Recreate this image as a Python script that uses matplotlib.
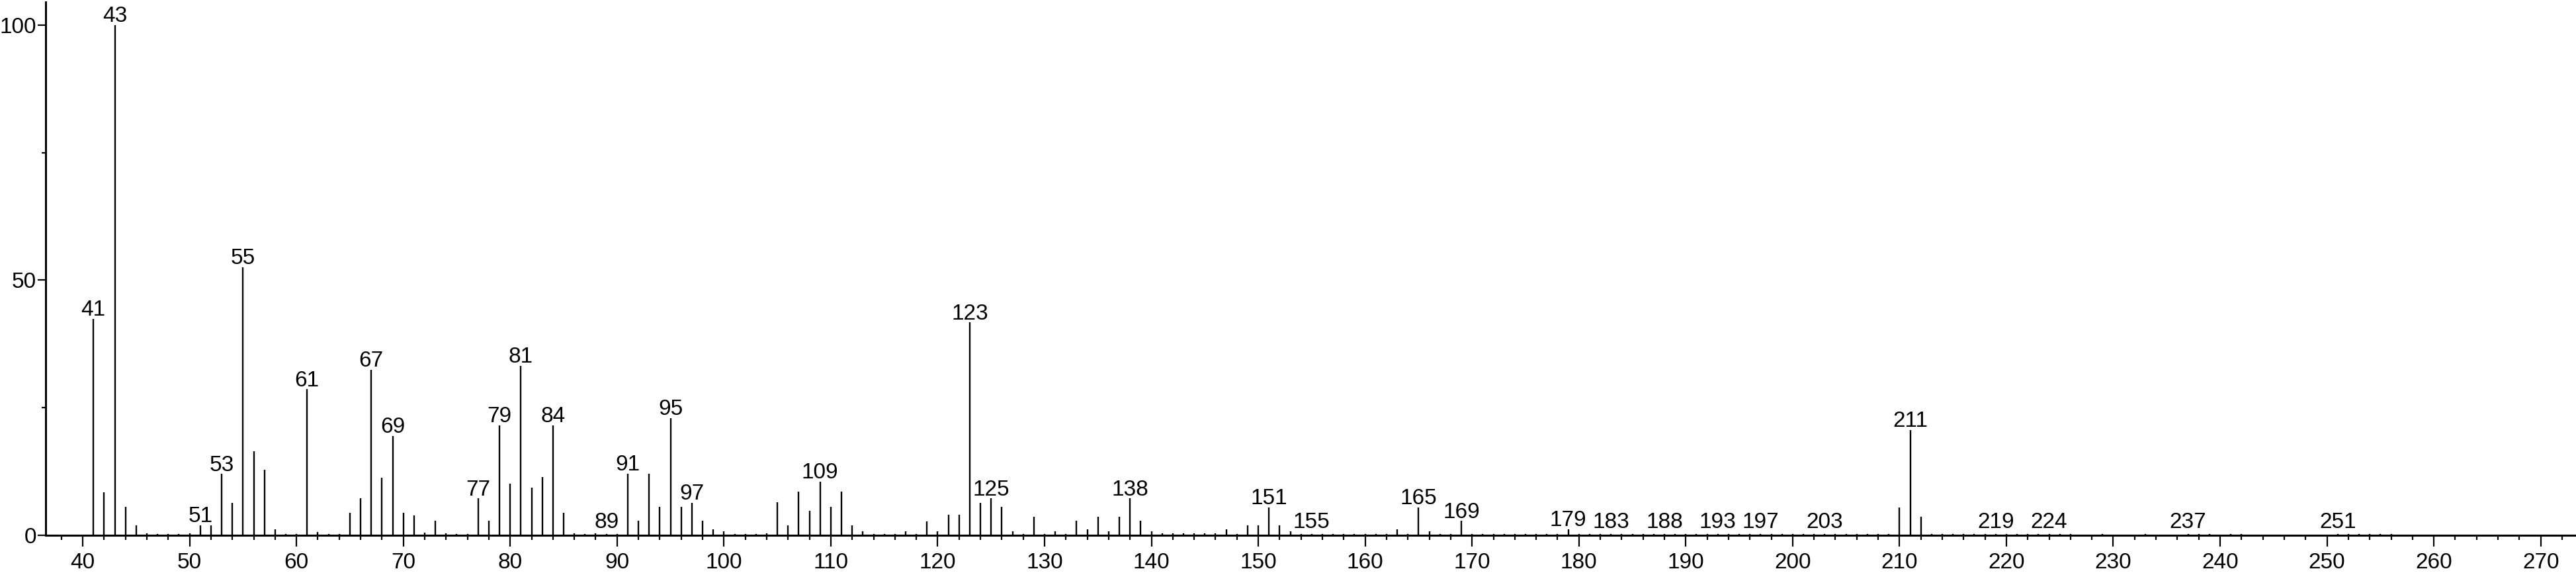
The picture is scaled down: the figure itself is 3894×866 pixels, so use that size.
import matplotlib
matplotlib.use("Agg")
import matplotlib.pyplot as plt
from matplotlib.ticker import MultipleLocator

# m/z values and relative intensities (%)
masses = [41, 42, 43, 44, 45, 46, 47, 48, 49, 50,
          51, 52, 53, 54, 55, 56, 57, 58, 59, 60,
          61, 62, 63, 64, 65, 66, 67, 68, 69, 70,
          71, 72, 73, 74, 75, 76, 77, 78, 79, 80,
          81, 82, 83, 84, 85, 86, 87, 88, 89, 90,
          91, 92, 93, 94, 95, 96, 97, 98, 99, 100,
          101, 102, 103, 104, 105, 106, 107, 108, 109, 110,
          111, 112, 113, 114, 115, 116, 117, 118, 119, 120,
          121, 122, 123, 124, 125, 126, 127, 128, 129, 130,
          131, 132, 133, 134, 135, 136, 137, 138, 139, 140,
          141, 142, 143, 144, 145, 146, 147, 148, 149, 150,
          151, 152, 153, 154, 155, 156, 157, 158, 159, 160,
          161, 162, 163, 164, 165, 166, 167, 168, 169, 170,
          171, 172, 173, 174, 175, 176, 177, 178, 179, 180,
          181, 182, 183, 184, 185, 186, 187, 188, 189, 190,
          191, 192, 193, 194, 195, 196, 197, 198, 199, 200,
          201, 202, 203, 204, 205, 206, 207, 208, 209, 210,
          211, 212, 213, 214, 215, 216, 217, 218, 219, 220,
          221, 222, 223, 224, 225, 226, 229, 233, 237, 238,
          239, 241, 242, 251, 252, 253, 254, 255, 256]
intensities = [42.4, 8.4, 100.0, 5.6, 1.9, 0.4, 0.2, 0.3, 0.2, 0.4,
               1.9, 1.9, 12.0, 6.4, 52.5, 16.5, 12.9, 1.2, 0.3, 0.2,
               28.6, 0.7, 0.3, 0.3, 4.4, 7.3, 32.4, 11.3, 19.5, 4.4,
               3.9, 0.5, 2.8, 0.4, 0.3, 0.3, 7.2, 2.8, 21.5, 10.1,
               33.2, 9.3, 11.4, 21.5, 4.4, 0.4, 0.3, 0.4, 0.3, 0.2,
               12.1, 2.8, 12.1, 5.6, 23.0, 5.6, 6.4, 2.8, 1.2, 0.8,
               0.3, 0.3, 0.3, 0.4, 6.5, 2.0, 8.5, 4.8, 10.5, 5.6,
               8.5, 2.0, 0.8, 0.3, 0.3, 0.3, 0.8, 0.3, 2.7, 0.8,
               4.0, 4.0, 41.7, 6.4, 7.2, 5.6, 0.8, 0.3, 3.6, 0.3,
               0.8, 0.3, 2.9, 1.2, 3.6, 0.8, 3.6, 7.2, 2.8, 0.8,
               0.4, 0.4, 0.4, 0.4, 0.4, 0.4, 1.2, 0.3, 2.0, 2.0,
               5.5, 2.0, 0.8, 0.3, 0.3, 0.3, 0.3, 0.3, 0.3, 0.3,
               0.3, 0.3, 1.2, 0.3, 5.5, 0.8, 0.3, 0.3, 2.8, 0.3,
               0.3, 0.3, 0.3, 0.3, 0.3, 0.3, 0.3, 0.3, 1.2, 0.3,
               0.3, 0.3, 0.3, 0.3, 0.3, 0.3, 0.3, 0.3, 0.3, 0.3,
               0.3, 0.3, 0.3, 0.3, 0.3, 0.3, 0.3, 0.3, 0.3, 0.3,
               0.3, 0.3, 0.3, 0.3, 0.3, 0.3, 0.3, 0.3, 0.3, 5.5,
               20.6, 3.6, 0.3, 0.3, 0.3, 0.3, 0.3, 0.3, 0.3, 0.3,
               0.3, 0.3, 0.3, 0.3, 0.3, 0.3, 0.3, 0.3, 0.3, 0.3,
               0.3, 0.3, 0.3, 0.3, 0.3, 0.3, 0.3, 0.3, 0.3]
labeled = [41, 43, 51, 53, 55, 61, 67, 69, 77, 79, 81, 84, 89, 91, 95, 97,
           109, 123, 125, 138, 151, 155, 165, 169, 179, 183, 188, 193, 197,
           203, 211, 219, 224, 237, 251]

plt.rcParams['font.family'] = ['Liberation Sans', 'DejaVu Sans']

W, H = 3894, 866
fig = plt.figure(figsize=(W / 100, H / 100), dpi=100)
ax = fig.add_axes([69 / W, 57 / H, 1 - 69 / W, 806 / H])

ax.vlines(masses, 0, intensities, color='black', lw=1.7)

heights = dict(zip(masses, intensities))
for m in labeled:
    y = max(heights[m], 0.8)
    ax.annotate(str(m), (m, y), xytext=(0, 3.5), textcoords='offset points',
                ha='center', va='baseline', fontsize=24)

ax.set_xlim(36.53, 273.3)
ax.set_ylim(0, 104.5)

ax.xaxis.set_major_locator(MultipleLocator(10))
ax.xaxis.set_minor_locator(MultipleLocator(2))
ax.yaxis.set_major_locator(MultipleLocator(50))
ax.yaxis.set_minor_locator(MultipleLocator(25))

ax.tick_params(axis='x', which='major', length=12, width=1.6, pad=7, labelsize=24)
ax.tick_params(axis='x', which='minor', length=5, width=1.6)
ax.tick_params(axis='y', which='major', length=8.5, width=1.6, pad=1.5, labelsize=24)
ax.tick_params(axis='y', which='minor', length=4, width=1.6)

for s in ['top', 'right']:
    ax.spines[s].set_visible(False)
for s in ['left', 'bottom']:
    ax.spines[s].set_linewidth(2.2)

fig.savefig('out.png', dpi=100)
